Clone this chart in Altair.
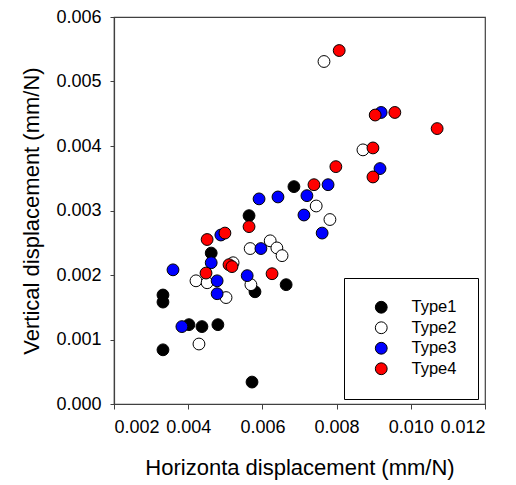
import altair as alt
import pandas as pd

types = ["Type1", "Type2", "Type3", "Type4"]
colors = ["#000000", "#ffffff", "#0000ff", "#ff0000"]

type1_x = [0.00564, 0.00685, 0.00462, 0.00580, 0.00664, 0.00332, 0.00332, 0.00332, 0.00402, 0.00437, 0.00480, 0.00572]
type1_y = [0.00292, 0.00337, 0.00234, 0.00174, 0.00185, 0.00169, 0.00158, 0.00084, 0.00123, 0.00120, 0.00123, 0.00034]

type2_x = [0.00766, 0.00871, 0.00745, 0.00782, 0.00621, 0.00639, 0.00653, 0.00567, 0.00569, 0.00421, 0.00451, 0.00502, 0.00429, 0.00521]
type2_y = [0.00531, 0.00394, 0.00307, 0.00286, 0.00253, 0.00242, 0.00230, 0.00241, 0.00185, 0.00191, 0.00188, 0.00165, 0.00093, 0.00219]

type3_x = [0.00359, 0.00383, 0.00462, 0.00478, 0.00478, 0.00488, 0.00559, 0.00596, 0.00591, 0.00642, 0.00720, 0.00712, 0.00761, 0.00777, 0.00920, 0.00917]
type3_y = [0.00208, 0.00120, 0.00219, 0.00191, 0.00171, 0.00262, 0.00199, 0.00241, 0.00318, 0.00321, 0.00323, 0.00293, 0.00265, 0.00340, 0.00452, 0.00365]

type4_x = [0.00451, 0.00499, 0.00564, 0.00448, 0.00510, 0.00518, 0.00626, 0.00739, 0.00798, 0.00807, 0.00904, 0.00957, 0.01071, 0.00898, 0.00898]
type4_y = [0.00255, 0.00265, 0.00275, 0.00203, 0.00216, 0.00213, 0.00202, 0.00340, 0.00368, 0.00548, 0.00448, 0.00452, 0.00427, 0.00397, 0.00352]

x_ticks = [0.002, 0.004, 0.006, 0.008, 0.010, 0.012]
y_ticks = [0.000, 0.001, 0.002, 0.003, 0.004, 0.005, 0.006]

rows = []
for t, xs, ys in zip(types, [type1_x, type2_x, type3_x, type4_x], [type1_y, type2_y, type3_y, type4_y]):
    for xv, yv in zip(xs, ys):
        rows.append({"type": t, "x": xv, "y": yv})
df = pd.DataFrame(rows)

FONT = "Liberation Sans"
FRAME = "#404040"

chart = alt.Chart(df).mark_circle(size=140, stroke="black", strokeWidth=1, opacity=1).encode(
    x=alt.X("x:Q", scale=alt.Scale(domain=[0.002, 0.012], nice=False, zero=False),
            axis=alt.Axis(values=x_ticks, format=".3f", title="Horizonta displacement (mm/N)",
                          grid=False, tickSize=5, labelPadding=9, titlePadding=21)),
    y=alt.Y("y:Q", scale=alt.Scale(domain=[0.0, 0.006], nice=False),
            axis=alt.Axis(values=y_ticks, format=".3f", title="Vertical displacement (mm/N)",
                          grid=False, tickSize=4, labelPadding=9, titlePadding=12)),
    color=alt.Color("type:N", scale=alt.Scale(domain=types, range=colors),
                    legend=alt.Legend(title=None, orient="none", legendX=230, legendY=261,
                                      strokeColor="black", fillColor="white", padding=21,
                                      symbolSize=140, symbolType="circle",
                                      symbolStrokeColor="black", symbolStrokeWidth=1,
                                      symbolOpacity=1,
                                      labelFontSize=16.5, labelFont=FONT, labelColor="black",
                                      labelOffset=22, symbolOffset=8, rowPadding=3.5)),
    order=alt.Order("type:N"),
).properties(
    width=371, height=387,
    autosize=alt.AutoSizeParams(type="none"),
    padding={"left": 106, "top": 9, "right": 20, "bottom": 78},
).configure_view(
    stroke=FRAME, strokeWidth=1.2
).configure_axis(
    labelFont=FONT, titleFont=FONT, labelFontSize=18, titleFontSize=22,
    titleFontWeight="normal", labelColor="black", titleColor="black",
    domainColor=FRAME, tickColor=FRAME, domainWidth=1.2
)

chart.save("out.html", embed_options={"renderer": "svg", "actions": False})
